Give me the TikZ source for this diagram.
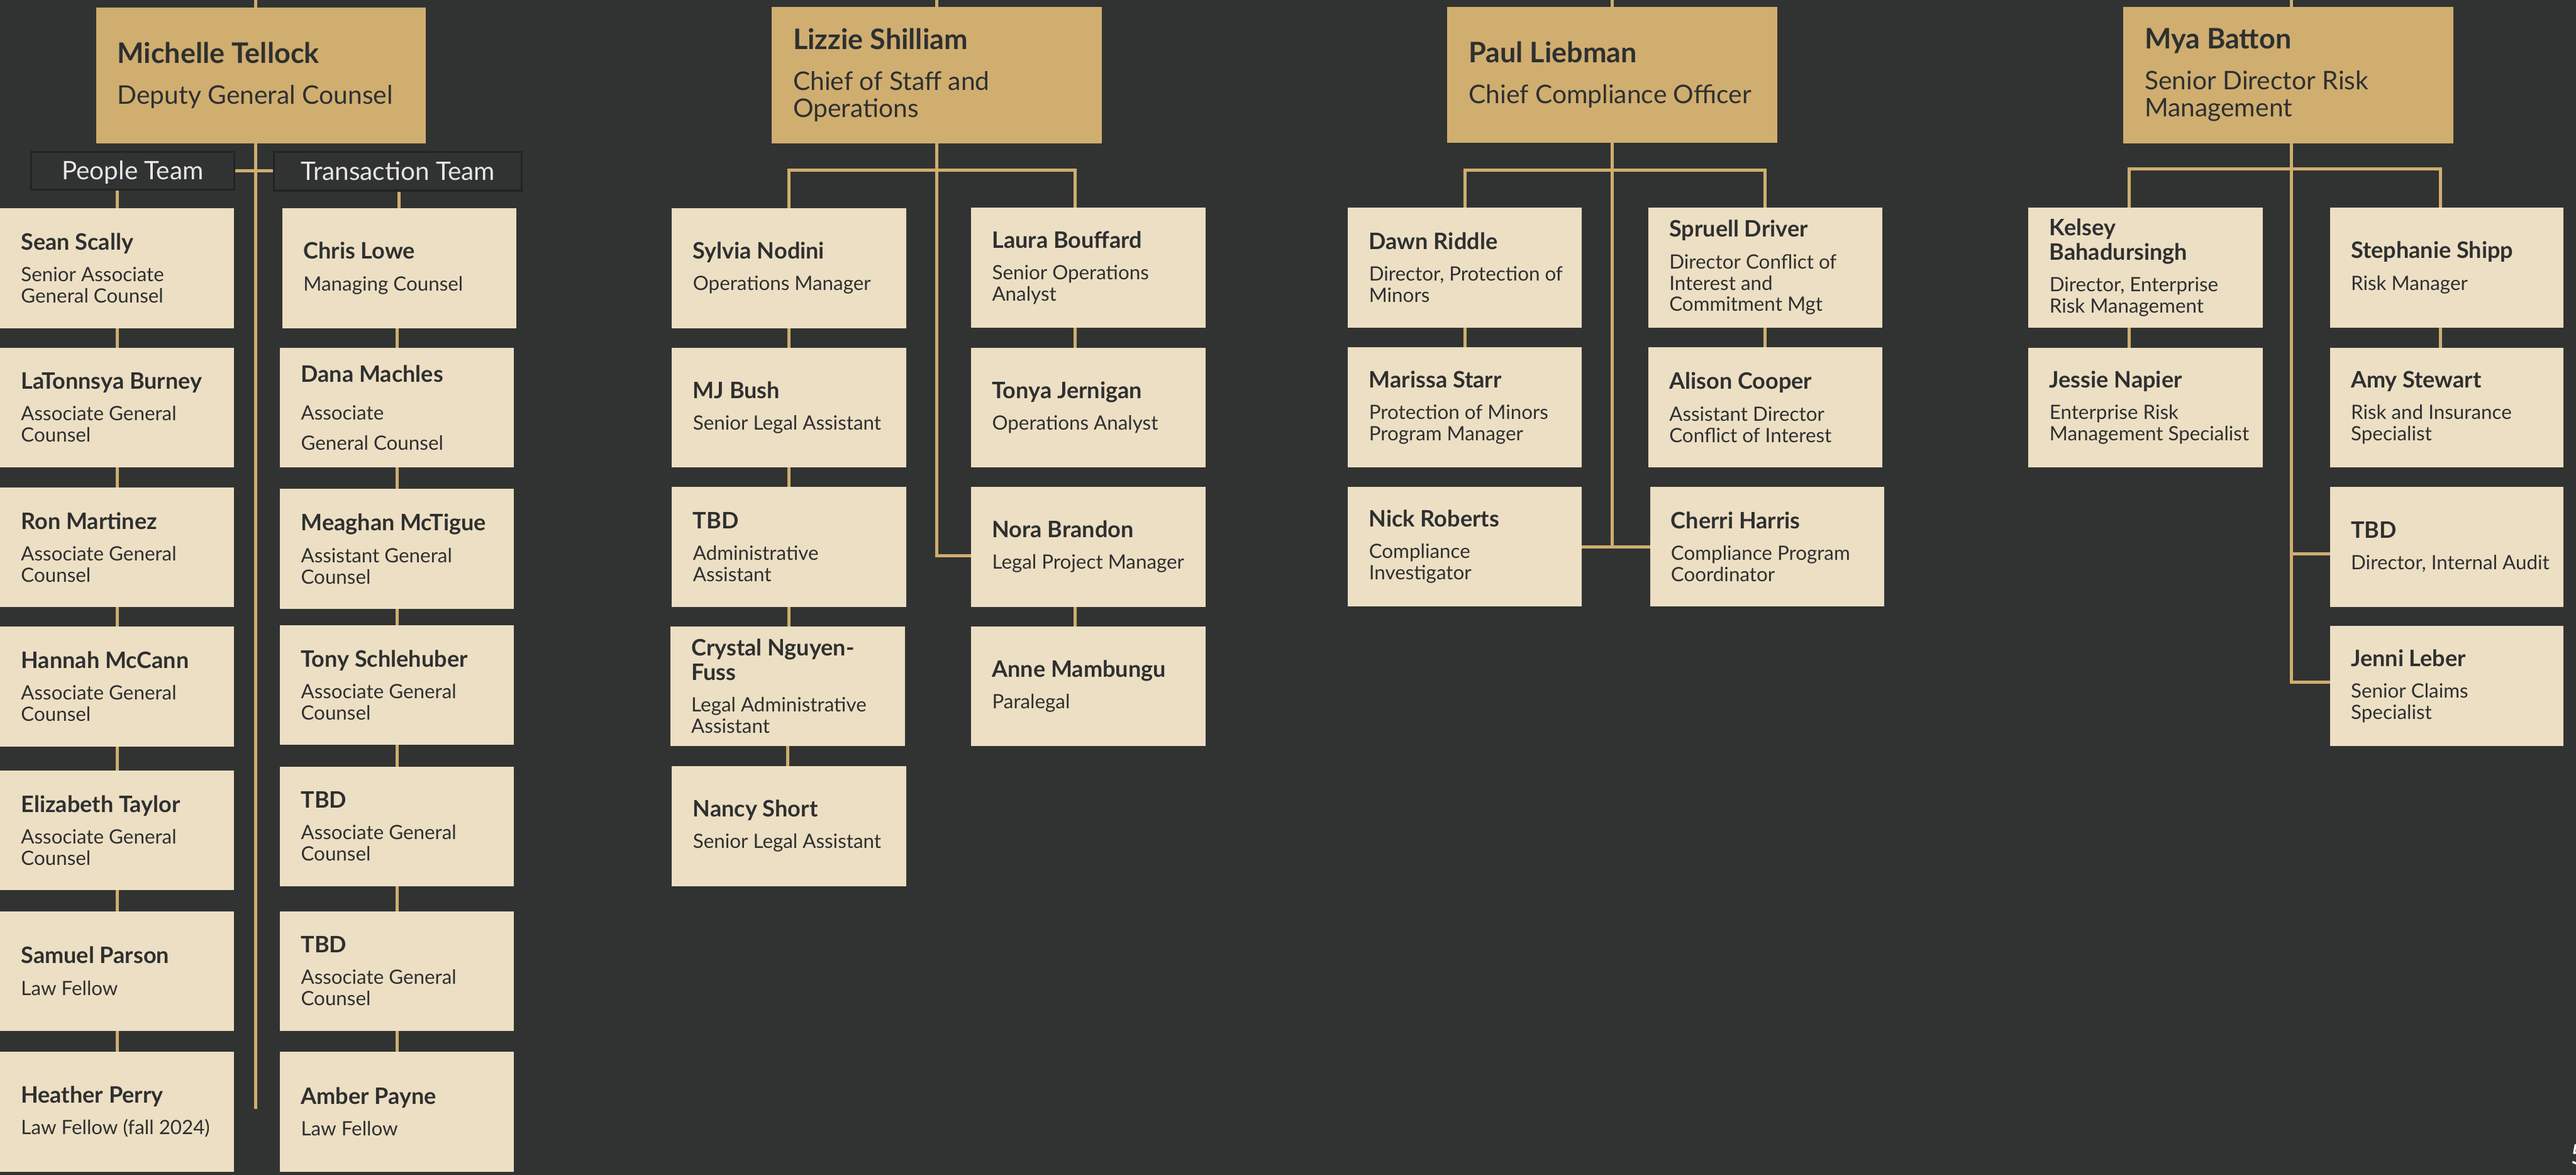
\documentclass[tikz,border=0pt]{standalone}
\usepackage{fontspec}
\setmainfont{Lato}
\newfontfamily\lato{Lato}
\usetikzlibrary{calc}
\definecolor{bg}{HTML}{313332}
\definecolor{gold}{HTML}{D0AE70}
\definecolor{beige}{HTML}{EDDFC4}
\definecolor{lc}{HTML}{D0AE6F}
\definecolor{txt}{HTML}{2E3030}
\definecolor{teamfill}{HTML}{313332}
\definecolor{teamline}{HTML}{222423}
\definecolor{teamtxt}{HTML}{E6E6E6}
\tikzset{
  cbox/.style={rectangle, fill=beige, inner sep=0pt, outer sep=0pt},
  tbox/.style={rectangle, fill=gold, inner sep=0pt, outer sep=0pt},
  team/.style={rectangle, fill=teamfill, draw=teamline, line width=1.2pt, inner sep=0pt,
    text=teamtxt, text height=11.1pt, text depth=0pt, font=\lato\fontsize{15.5}{16}\selectfont},
  conn/.style={draw=lc, line width=1.9pt},
}
% child text
\newcommand\ctext[4]{\begin{minipage}{#1}\raggedright\setlength\parskip{0pt}\color{txt}%
{\lato\bfseries\fontsize{13.8}{14.8}\selectfont #3\par}%
\vspace{#2}%
{\lato\fontsize{12}{13}\selectfont #4\par}%
\end{minipage}}
% top text
\newcommand\ttext[4]{\begin{minipage}{#1}\raggedright\setlength\parskip{0pt}\color{txt}%
{\lato\bfseries\fontsize{17.2}{18}\selectfont #3\par}%
\vspace{#2}%
{\lato\fontsize{15.6}{16.5}\selectfont #4\par}%
\end{minipage}}
\newcommand\cb[8][6.2pt]{%
\node[cbox, minimum width={#5pt-#3pt}, minimum height={#6pt-#4pt}] (#2) at ({(#3+#5)/2},{(#4+#6)/2})
 {\makebox[\dimexpr#5pt-#3pt\relax][l]{\hspace*{12.8pt}\ctext{\dimexpr#5pt-#3pt-14.8pt\relax}{#1}{#7}{#8}}};}
\newcommand\tb[8][8.5pt]{%
\node[tbox, minimum width={#5pt-#3pt}, minimum height={#6pt-#4pt}] (#2) at ({(#3+#5)/2},{(#4+#6)/2})
 {\makebox[\dimexpr#5pt-#3pt\relax][l]{\hspace*{13pt}\ttext{\dimexpr#5pt-#3pt-16pt\relax}{#1}{#7}{#8}}};}
\begin{document}
\begin{tikzpicture}[x=1pt,y=-1pt]
\useasboundingbox (0,0) rectangle (1568,715);
\fill[bg] (0,0) rectangle (1568,715);

% ===== Michelle Tellock =====
\tb{mt}{58.4}{4.5}{259.2}{87.2}{Michelle Tellock}{Deputy General Counsel}
\node[team, minimum width=123.6pt, minimum height=23pt] (pt) at (80.7,103.9) {People Team};
\node[team, minimum width=150.8pt, minimum height=23.6pt] (tt) at (242.2,104.2) {Transaction Team};
\cb{sean}{0}{126.7}{142.5}{199.8}{Sean Scally}{Senior Associate\\General Counsel}
\cb{lat}{0}{211.5}{142.5}{284.6}{LaTonnsya Burney}{Associate General\\Counsel}
\cb{ron}{0}{296.6}{142.5}{369.5}{Ron Martinez}{Associate General\\Counsel}
\cb{han}{0}{381.4}{142.5}{454.3}{Hannah McCann}{Associate General\\Counsel}
\cb{eli}{0}{468.8}{142.5}{541.8}{Elizabeth Taylor}{Associate General\\Counsel}
\cb{sam}{0}{554.5}{142.5}{627.4}{Samuel Parson}{Law Fellow}
\cb{hea}{0}{640}{142.5}{713}{Heather Perry}{Law Fellow (fall 2024)}
\cb{chr}{171.9}{126.7}{314.2}{199.8}{Chris Lowe}{Managing Counsel}
\cb[10.1pt]{dan}{170.4}{211.5}{312.9}{284.6}{Dana Machles}{Associate\\[5.1pt]General Counsel}
\cb{mea}{170.4}{297.6}{312.9}{370.6}{Meaghan McTigue}{Assistant General\\Counsel}
\cb{ton}{170.4}{380.4}{312.9}{453.4}{Tony Schlehuber}{Associate General\\Counsel}
\cb{tbda}{170.4}{466.5}{312.9}{539.4}{TBD}{Associate General\\Counsel}
\cb{tbdb}{170.4}{554.5}{312.9}{627.4}{TBD}{Associate General\\Counsel}
\cb{amb}{170.4}{640}{312.9}{713}{Amber Payne}{Law Fellow}

\coordinate (mx) at (155.5,0);
\coordinate (mend) at (155.5,675);
\draw[conn] (mx) -- (mx |- mt.north);
\draw[conn] (mt.south -| mend) -- (mend);
\draw[conn] (pt.east) -- (pt.east -| tt.west);
\draw[conn] (pt.south -| sean.north) -- (sean.north);
\draw[conn] (tt.south -| chr.north) -- (chr.north);
\foreach \a/\b in {sean/lat,lat/ron,ron/han,han/eli,eli/sam,sam/hea}
  \draw[conn] (\a.south) -- (\a.south |- \b.north);
\foreach \a/\b in {chr/dan,dan/mea,mea/ton,ton/tbda,tbda/tbdb,tbdb/amb}
  \draw[conn] (\b.north) -- (\b.north |- \a.south);

% ===== Lizzie Shilliam =====
\tb{lz}{469.8}{4.1}{670.6}{87.1}{Lizzie Shilliam}{Chief of Staff and\\Operations}
\cb{sy}{409}{126.7}{551.7}{199.7}{Sylvia Nodini}{Operations Manager}
\cb{mj}{409}{211.5}{551.7}{284.6}{MJ Bush}{Senior Legal Assistant}
\cb{tba}{409}{296.2}{551.7}{369.3}{TBD}{Administrative\\Assistant}
\cb{cr}{408}{381.2}{550.7}{454.1}{Crystal Nguyen-\\Fuss}{Legal Administrative\\Assistant}
\cb{ns}{409}{466.1}{551.7}{539.2}{Nancy Short}{Senior Legal Assistant}
\cb{lb}{591.1}{126.3}{733.7}{199.4}{Laura Bouffard}{Senior Operations\\Analyst}
\cb{tj}{591.1}{211.5}{733.7}{284.6}{Tonya Jernigan}{Operations Analyst}
\cb{nb}{591.1}{296.2}{733.7}{369.3}{Nora Brandon}{Legal Project Manager}
\cb{am}{591.1}{381.2}{733.7}{454.1}{Anne Mambungu}{Paralegal}

\coordinate (lx) at (570.2,0);
\coordinate (lzL) at (480.4,103.6);
\coordinate (lzR) at (654.5,103.6);
\draw[conn] (lx) -- (lx |- lz.north);
\draw[conn] (lz.south) |- ($(nb.west)+(0,5.5)$);
\draw[conn] (sy.north) -- (sy.north |- lzL) -- (lzR) -- (lzR |- lb.north);
\draw[conn] (lb.south -| lzR) -- (tj.north -| lzR);
\draw[conn] (nb.south -| lzR) -- (am.north -| lzR);
\foreach \a/\b in {sy/mj,mj/tba,tba/cr,cr/ns}
  \draw[conn] (\a.south) -- (\a.south |- \b.north);

% ===== Paul Liebman =====
\tb{pl}{881}{4.2}{1081.8}{86.8}{Paul Liebman}{Chief Compliance Officer}
\cb{dr}{820.5}{126.3}{962.9}{199.4}{Dawn Riddle}{Director, Protection of\\Minors}
\cb{ms}{820.5}{211.4}{962.9}{284.5}{Marissa Starr}{Protection of Minors\\Program Manager}
\cb{nr}{820.5}{296.3}{962.9}{369.1}{Nick Roberts}{Compliance\\Investigator}
\cb{sd}{1003.3}{126.3}{1145.7}{199.4}{Spruell Driver}{Director Conflict of\\Interest and\\Commitment Mgt}
\cb{ac}{1003.3}{211.4}{1145.7}{284.5}{Alison Cooper}{Assistant Director\\Conflict of Interest}
\cb{ch}{1004.3}{296.3}{1146.7}{369.1}{Cherri Harris}{Compliance Program\\Coordinator}

\coordinate (px) at (981.4,0);
\coordinate (pbar) at (981.4,103.6);
\draw[conn] (px) -- (px |- pl.north);
\draw[conn] (pl.south) -- (pl.south |- nr.east);
\draw[conn] (nr.east) -- (ch.west |- nr.east);
\draw[conn] (dr.north) -- (dr.north |- pbar) -- (sd.north |- pbar) -- (sd.north);
\draw[conn] (dr.south) -- (dr.south |- ms.north);
\draw[conn] (sd.south) -- (sd.south |- ac.north);

% ===== Mya Batton =====
\tb{mb}{1292.4}{4.1}{1493.2}{87.1}{Mya Batton}{Senior Director Risk\\Management}
\cb{kb}{1234.7}{126.3}{1377.3}{199.4}{Kelsey\\Bahadursingh}{Director, Enterprise\\Risk Management}
\cb{jn}{1234.7}{211.5}{1377.3}{284.5}{Jessie Napier}{Enterprise Risk\\Management Specialist}
\cb{ss}{1418.2}{126.3}{1560.4}{199.4}{Stephanie Shipp}{Risk Manager}
\cb{as}{1418.2}{211.5}{1560.4}{284.5}{Amy Stewart}{Risk and Insurance\\Specialist}
\cb{tbi}{1418.2}{296.3}{1560.4}{369.3}{TBD}{Director, Internal Audit}
\cb{jl}{1418.2}{381}{1560.4}{454.1}{Jenni Leber}{Senior Claims\\Specialist}

\coordinate (myx) at (1394.6,0);
\coordinate (kbx) at (1296,102.8);
\coordinate (ssx) at (1485.6,102.8);
\coordinate (mytb) at (1394.6,337);
\coordinate (myend) at (1394.6,415.2);
\draw[conn] (myx) -- (myx |- mb.north);
\draw[conn] (mb.south -| myend) -- (myend) -- (myend -| jl.west);
\draw[conn] (mytb) -- (mytb -| tbi.west);
\draw[conn] (kbx |- kb.north) -- (kbx) -- (ssx) -- (ssx |- ss.north);
\draw[conn] (kb.south -| kbx) -- (jn.north -| kbx);
\draw[conn] (ss.south -| ssx) -- (as.north -| ssx);

\node[anchor=base west, inner sep=0pt, text=white, font=\lato\fontsize{17}{17}\selectfont] (pg) at (1564.6,708.6) {5};
\end{tikzpicture}
\end{document}
